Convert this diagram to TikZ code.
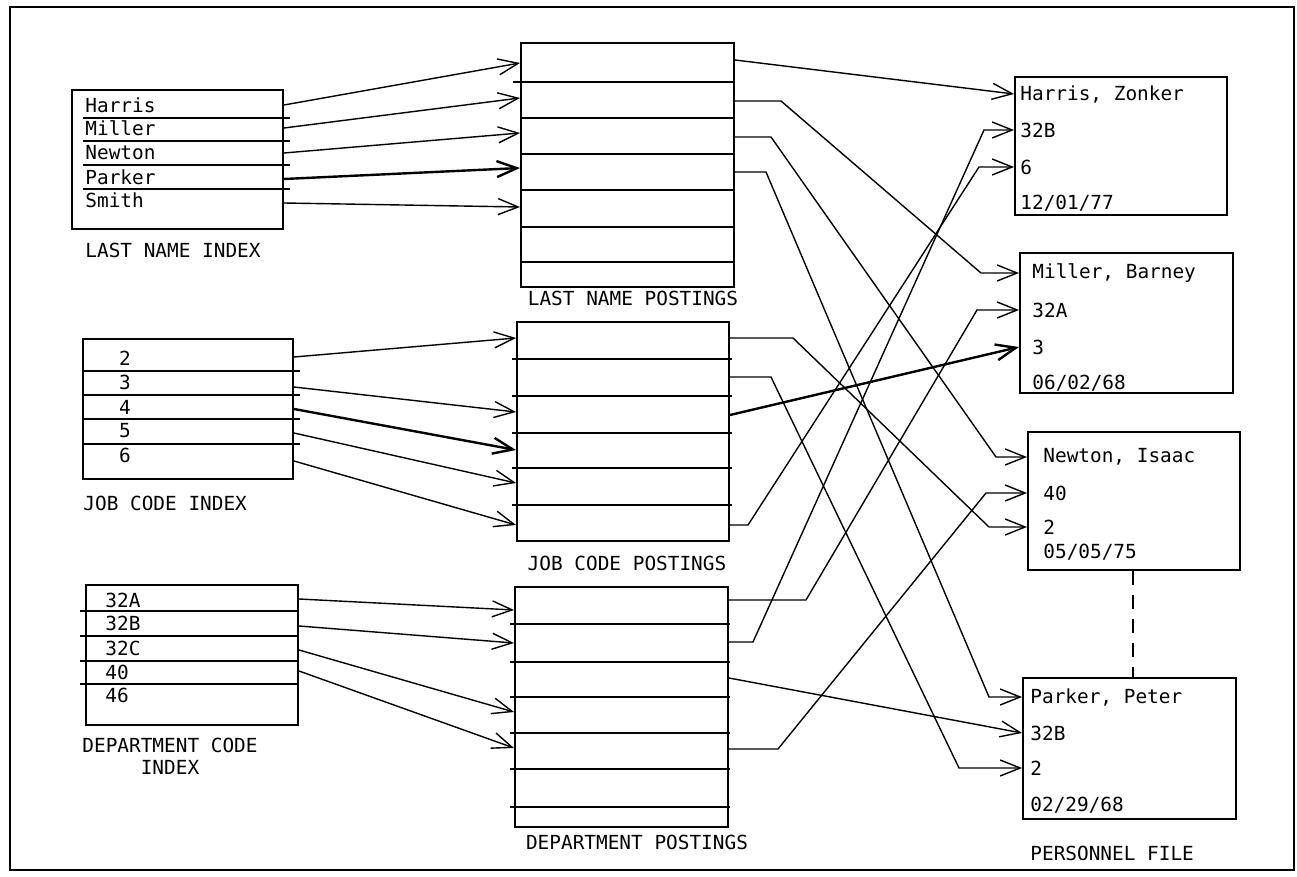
\documentclass[tikz,border=0pt]{standalone}
\usepackage{fontspec}
\newfontfamily\typefont{DejaVu Sans Mono}
\usetikzlibrary{arrows.meta,fit,positioning}
\newcommand{\filefont}{\typefont\fontsize{9.7}{11}\selectfont}

\begin{document}
\begin{tikzpicture}[
  x=0.5pt, y=-0.5pt,
  > = {Straight Barb[length=10pt,width=8pt]},
  frame/.style = {draw, line width=1pt, inner sep=0pt},
  rule/.style = {line width=0.7pt},
  link/.style = {->, line width=0.7pt},
  heavy/.style = {->, line width=1.2pt},
  txt/.style = {font=\filefont, inner sep=0pt, anchor=west},
  caption/.style = {font=\filefont, inner sep=0pt}
  ]
  \useasboundingbox (0,0) rectangle (1297,877);
  \draw[line width=1.1pt] (10,7) rectangle (1294,870);

  % index files
  \node[frame, fit={(72,90) (283,229)}] (lnidx) {};
  \foreach \y in {118,141,165,189} \draw[rule] (83,\y) -- (290,\y);
  \foreach \t/\y in {Harris/105, Miller/128, Newton/153, Parker/177, Smith/200}
    \node[txt] (lnidx-\t) at (85,\y) {\t};
  \node[caption, anchor=west] (lnidx-cap) at (85,250) {LAST NAME INDEX};

  \node[frame, fit={(83,339) (293,479)}] (jobidx) {};
  \foreach \y in {371,395,419,444} \draw[rule] (83,\y) -- (300,\y);
  \foreach \t/\y in {2/358, 3/382, 4/407, 5/431, 6/455}
    \node[txt, anchor=center] (jobidx-\t) at (125,\y) {\t};
  \node[caption, anchor=west] (jobidx-cap) at (83,503) {JOB CODE INDEX};

  \node[frame, fit={(86,585) (298,725)}] (depidx) {};
  \foreach \y in {611,636,661,684} \draw[rule] (80,\y) -- (298,\y);
  \foreach \t/\y in {32A/600, 32B/623, 32C/648, 40/672, 46/695}
    \node[txt] (depidx-\t) at (105,\y) {\t};
  \node[caption, align=center] (depidx-cap) at (170,756) {DEPARTMENT CODE\\INDEX};

  % postings files
  \node[frame, fit={(521,43) (734,287)}] (lnpost) {};
  \draw[rule] (513,82) -- (734,82);
  \foreach \y in {118,154,190,227,262} \draw[rule] (521,\y) -- (734,\y);
  \node[caption] (lnpost-cap) at (633,298) {LAST NAME POSTINGS};

  \node[frame, fit={(517,322) (729,541)}] (jobpost) {};
  \foreach \y in {359,396,433,468,505} \draw[rule] (512,\y) -- (732,\y);
  \node[caption] (jobpost-cap) at (627,563) {JOB CODE POSTINGS};

  \node[frame, fit={(515,587) (728,827)}] (deppost) {};
  \foreach \y in {624,662,697,733,769,807} \draw[rule] (510,\y) -- (730,\y);
  \node[caption] (deppost-cap) at (637,842) {DEPARTMENT POSTINGS};

  % personnel file
  \node[frame, fit={(1015,77) (1227,215)}] (harris) {};
  \node[txt] (harris-1) at (1020,94) {Harris, Zonker};
  \node[txt] (harris-2) at (1020,130) {32B};
  \node[txt] (harris-3) at (1020,167) {6};
  \node[txt] (harris-4) at (1020,203) {12/01/77};

  \node[frame, fit={(1020,253) (1233,393)}] (miller) {};
  \node[txt] (miller-1) at (1032,273) {Miller, Barney};
  \node[txt] (miller-2) at (1032,310) {32A};
  \node[txt] (miller-3) at (1032,347) {3};
  \node[txt] (miller-4) at (1032,383) {06/02/68};

  \node[frame, fit={(1028,432) (1240,570)}] (newton) {};
  \node[txt] (newton-1) at (1043,457) {Newton, Isaac};
  \node[txt] (newton-2) at (1043,493) {40};
  \node[txt] (newton-3) at (1043,527) {2};
  \node[txt] (newton-4) at (1043,552) {05/05/75};

  \node[frame, fit={(1023,678) (1236,819)}] (parker) {};
  \node[txt] (parker-1) at (1030,697) {Parker, Peter};
  \node[txt] (parker-2) at (1030,733) {32B};
  \node[txt] (parker-3) at (1030,768) {2};
  \node[txt] (parker-4) at (1030,805) {02/29/68};
  \node[caption, anchor=west] (parker-cap) at (1030,853) {PERSONNEL FILE};

  \draw[line width=0.9pt, dash pattern=on 7pt off 5pt] (newton.south -| 1133,0) -- (parker.north -| 1133,0);

  % index -> postings
  \foreach \ya/\yb/\s in {105/63/link, 128/98/link, 153/133/link, 179/168/heavy, 203/207/link}
    \draw[\s] (lnidx.east |- 0,\ya) -- (lnpost.west |- 0,\yb);
  \foreach \ya/\yb/\s in {357/338/link, 387/412/link, 409/450/heavy, 433/483/link, 461/525/link}
    \draw[\s] (jobidx.east |- 0,\ya) -- (jobpost.west |- 0,\yb);
  \foreach \ya/\yb in {599/610, 626/643, 650/712, 671/748}
    \draw[link] (depidx.east |- 0,\ya) -- (deppost.west |- 0,\yb);

  % postings -> personnel records
  \draw[link] (lnpost.east |- 0,60) -- (harris.west |- harris-1);
  \draw[link] (lnpost.east |- 0,101) -- ++(46,0) -- ([xshift=-19pt]miller.west |- miller-1) -- (miller.west |- miller-1);
  \draw[link] (lnpost.east |- 0,137) -- ++(36,0) -- ([xshift=-15.5pt]newton.west |- newton-1) -- (newton.west |- newton-1);
  \draw[link] (lnpost.east |- 0,172) -- ++(31,0) -- ([xshift=-16.5pt]parker.west |- parker-1) -- (parker.west |- parker-1);

  \draw[link] (jobpost.east |- 0,338) -- ++(63,0) -- ([xshift=-19pt]newton.west |- newton-3) -- (newton.west |- newton-3);
  \draw[link] (jobpost.east |- 0,377) -- ++(41,0) -- ([xshift=-31.5pt]parker.west |- parker-3) -- (parker.west |- parker-3);
  \draw[heavy] (jobpost.east |- 0,415) -- (miller.west |- miller-3);
  \draw[link] (jobpost.east |- 0,525) -- ++(18,0) -- ([xshift=-17.5pt]harris.west |- harris-3) -- (harris.west |- harris-3);

  \draw[link] (deppost.east |- 0,600) -- ++(77,0) -- ([xshift=-21pt]miller.west |- miller-2) -- (miller.west |- miller-2);
  \draw[link] (deppost.east |- 0,642) -- ++(24,0) -- ([xshift=-15pt]harris.west |- harris-2) -- (harris.west |- harris-2);
  \draw[link] (deppost.east |- 0,678) -- (parker.west |- parker-2);
  \draw[link] (deppost.east |- 0,749) -- ++(49,0) -- ([xshift=-20.5pt]newton.west |- newton-2) -- (newton.west |- newton-2);

\end{tikzpicture}
\end{document}
